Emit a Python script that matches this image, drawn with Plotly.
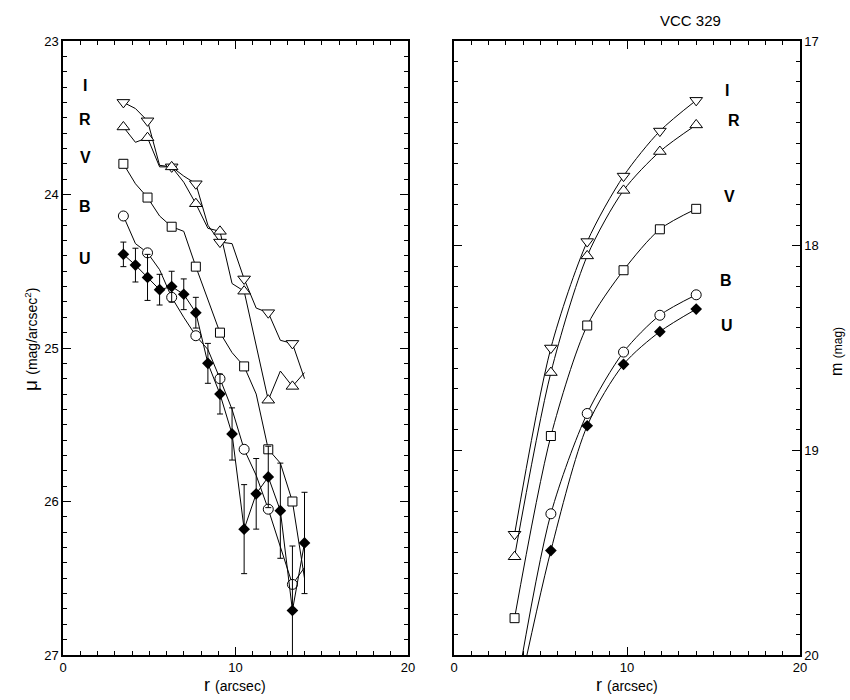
import plotly.graph_objects as go

# ---------------- data: left panel (surface brightness profiles) ----------------
r_left = [3.5, 4.2, 4.9, 5.6, 6.3, 7.0, 7.7, 8.4, 9.1, 9.8, 10.5, 11.2, 11.9, 12.6, 13.3, 14.0]
I_mu = [23.40, 23.44, 23.52, 23.81, 23.82, 23.88, 23.93, 24.20, 24.31, 24.32, 24.55, 24.74, 24.77, 24.95, 24.97, 25.20]
R_mu = [23.56, 23.66, 23.63, 23.82, 23.82, 23.92, 24.06, 24.22, 24.24, 24.58, 24.63, 24.98, 25.34, 25.15, 25.25, 25.16]
V_mu = [23.80, 23.93, 24.02, 24.14, 24.21, 24.24, 24.47, 24.69, 24.90, 25.03, 25.12, 25.30, 25.66, 25.75, 26.00, 26.50]
B_mu = [24.14, 24.32, 24.38, 24.49, 24.67, 24.80, 24.92, 25.01, 25.20, 25.40, 25.66, 25.83, 26.05, 26.29, 26.54, 26.43]
U_mu = [24.39, 24.46, 24.54, 24.62, 24.60, 24.65, 24.77, 25.10, 25.30, 25.56, 26.18, 25.95, 25.84, 26.06, 26.71, 26.27]
U_err = [0.08, 0.11, 0.15, 0.10, 0.10, 0.10, 0.10, 0.13, 0.13, 0.17, 0.29, 0.23, 0.20, 0.31, 0.42, 0.33]

# ---------------- data: right panel (growth curves) ----------------
r_right = [3.5, 5.6, 7.7, 9.8, 11.9, 14.0]
I_m = [19.41, 18.50, 17.98, 17.66, 17.44, 17.29]
R_m = [19.52, 18.62, 18.05, 17.73, 17.54, 17.41]
V_m = [19.82, 18.93, 18.39, 18.12, 17.92, 17.82]
B_m = [20.22, 19.31, 18.82, 18.52, 18.34, 18.24]
U_m = [20.28, 19.49, 18.88, 18.58, 18.42, 18.31]

band_names = ["I", "R", "V", "B", "U"]
left_label_x = [1.3, 1.3, 1.3, 1.3, 1.3]
left_label_y = [23.29, 23.51, 23.76, 24.08, 24.42]
right_label_x = [15.8, 16.2, 15.9, 15.7, 15.8]
right_label_y = [17.24, 17.39, 17.76, 18.17, 18.39]

title_text = "VCC 329"

FONT = "Liberation Sans, Arial, sans-serif"
symbols = {"I": "triangle-down", "R": "triangle-up", "V": "square", "B": "circle"}
sizes = {"I": 11, "R": 11, "V": 9, "B": 10}

fig = go.Figure()

left_series = {"I": I_mu, "R": R_mu, "V": V_mu, "B": B_mu}
for name, vals in left_series.items():
    fig.add_trace(go.Scatter(x=r_left, y=vals, mode="lines",
                             line=dict(color="black", width=1),
                             xaxis="x", yaxis="y", showlegend=False, hoverinfo="skip"))
for name, vals in left_series.items():
    fig.add_trace(go.Scatter(x=r_left[:-1:2], y=vals[:-1:2], mode="markers",
                             marker=dict(symbol=symbols[name], size=sizes[name], color="white",
                                         line=dict(color="black", width=1)),
                             xaxis="x", yaxis="y", showlegend=False))
fig.add_trace(go.Scatter(x=r_left, y=U_mu, mode="lines+markers",
                         line=dict(color="black", width=1),
                         marker=dict(symbol="diamond", size=9, color="black"),
                         error_y=dict(type="data", array=U_err, color="black", thickness=1, width=3),
                         xaxis="x", yaxis="y", showlegend=False))

right_series = {"I": I_m, "R": R_m, "V": V_m, "B": B_m}
for name, vals in right_series.items():
    fig.add_trace(go.Scatter(x=r_right, y=vals, mode="lines+markers",
                             line=dict(color="black", width=1, shape="spline", smoothing=0.8),
                             marker=dict(symbol=symbols[name], size=sizes[name], color="white",
                                         line=dict(color="black", width=1)),
                             xaxis="x2", yaxis="y2", showlegend=False))
fig.add_trace(go.Scatter(x=r_right, y=U_m, mode="lines+markers",
                         line=dict(color="black", width=1, shape="spline", smoothing=0.8),
                         marker=dict(symbol="diamond", size=9, color="black"),
                         xaxis="x2", yaxis="y2", showlegend=False))

ax_common = dict(showline=True, linecolor="black", linewidth=1.5, mirror="ticks",
                 ticks="inside", ticklen=8, tickcolor="black", tickwidth=1,
                 showgrid=False, zeroline=False, automargin=False,
                 tickfont=dict(family=FONT, size=13, color="black"))

fig.update_layout(
    width=850, height=700,
    margin=dict(l=0, r=0, t=0, b=0, autoexpand=False),
    paper_bgcolor="white", plot_bgcolor="white",
    xaxis=dict(domain=[63/850, 408/850], range=[0, 20], dtick=10, anchor="y",
               minor=dict(dtick=1, ticks="inside", ticklen=4, tickcolor="black"), **ax_common),
    yaxis=dict(domain=[45/700, 659/700], range=[27, 23], dtick=1, anchor="x",
               minor=dict(dtick=0.1, ticks="inside", ticklen=4, tickcolor="black"), **ax_common),
    xaxis2=dict(domain=[454/850, 800/850], range=[0, 20], dtick=10, anchor="y2",
                minor=dict(dtick=1, ticks="inside", ticklen=4, tickcolor="black"), **ax_common),
    yaxis2=dict(domain=[45/700, 659/700], range=[20, 17], dtick=1, anchor="x2", side="right",
                minor=dict(dtick=0.1, ticks="inside", ticklen=4, tickcolor="black"), **ax_common),
)

annotations = []
for n, x, y in zip(band_names, left_label_x, left_label_y):
    annotations.append(dict(x=x, y=y, xref="x", yref="y", text=f"<b>{n}</b>", showarrow=False,
                            xanchor="center", yanchor="middle",
                            font=dict(family=FONT, size=16, color="black")))
for n, x, y in zip(band_names, right_label_x, right_label_y):
    annotations.append(dict(x=x, y=y, xref="x2", yref="y2", text=f"<b>{n}</b>", showarrow=False,
                            xanchor="center", yanchor="middle",
                            font=dict(family=FONT, size=16, color="black")))
annotations.append(dict(x=690/850, y=1 - 20/700, xref="paper", yref="paper", text=title_text,
                        xanchor="center", yanchor="middle",
                        showarrow=False, font=dict(family=FONT, size=15, color="black")))
for cx in [235.5/850, 627/850]:
    annotations.append(dict(x=cx, y=1 - 685/700, xref="paper", yref="paper",
                            xanchor="center", yanchor="middle",
                            text="r <span style='font-size:14px'>(arcsec)</span>",
                            showarrow=False, font=dict(family=FONT, size=18, color="black")))
annotations.append(dict(x=30/850, y=1 - 340/700, xref="paper", yref="paper", textangle=-90,
                        xanchor="center", yanchor="middle",
                        text="μ <span style='font-size:14px'>(mag/arcsec<sup>2</sup>)</span>",
                        showarrow=False, font=dict(family=FONT, size=19, color="black")))
annotations.append(dict(x=836/850, y=1 - 352/700, xref="paper", yref="paper", textangle=-90,
                        xanchor="center", yanchor="middle",
                        text="m <span style='font-size:12px'>(mag)</span>",
                        showarrow=False, font=dict(family=FONT, size=16, color="black")))
fig.update_layout(annotations=annotations)

fig.write_html("out.html")
